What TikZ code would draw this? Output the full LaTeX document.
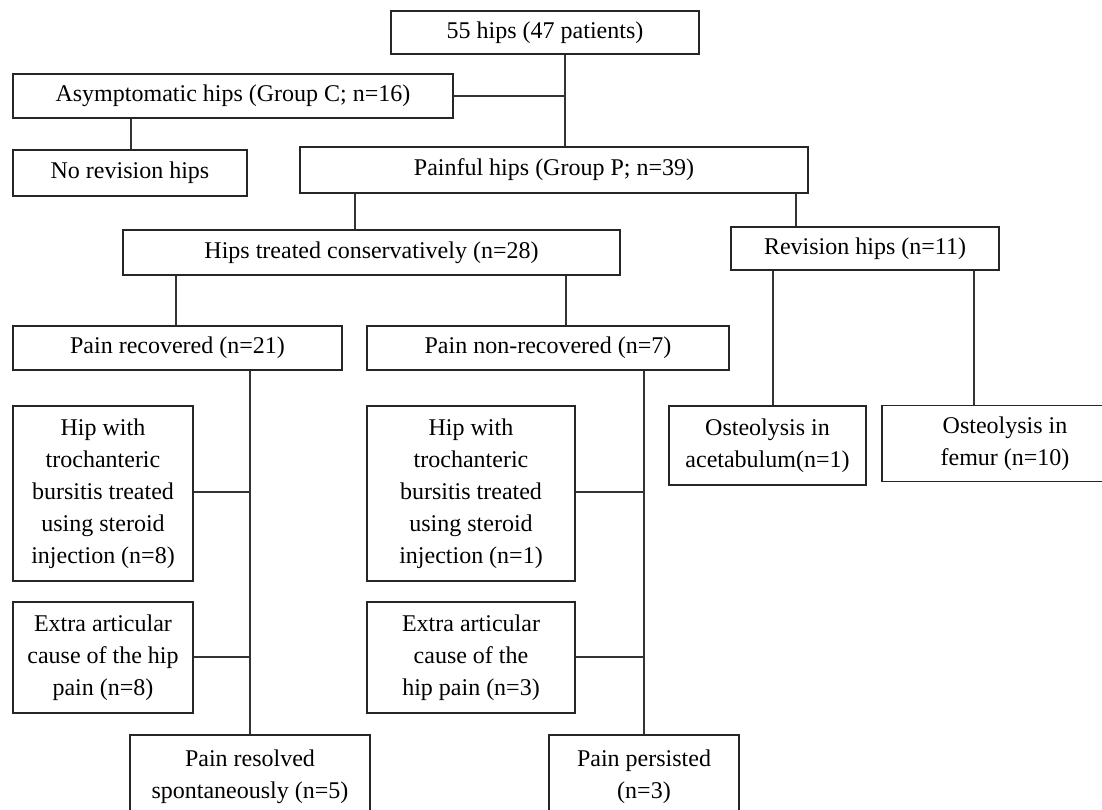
\documentclass[tikz,border=0pt]{standalone}
\usepackage{fontspec}
\setmainfont{Liberation Serif}
\begin{document}
\begin{tikzpicture}[x=1pt,y=-1pt,
  box/.style={draw=black!85,line width=1.3pt,rectangle,inner sep=0pt,align=center,
    font=\fontsize{24}{32}\selectfont},
  conn/.style={draw=black!80,line width=1.3pt}]
\useasboundingbox[fill=white] (0,0) rectangle (1102,809);
% boxes
\node[box,minimum width=308,minimum height=43] (top) at (545,32.5) {55 hips (47 patients)};
\node[box,minimum width=440,minimum height=44] (asym) at (233,96) {Asymptomatic hips (Group C; n=16)};
\node[box,minimum width=234,minimum height=46] (norev) at (130,173) {No revision hips};
\node[box,minimum width=508,minimum height=46] (painful) at (554,170) {Painful hips (Group P; n=39)};
\node[box,minimum width=497,minimum height=45] (cons) at (371.5,252.5) {Hips treated conservatively (n=28)};
\node[box,minimum width=268,minimum height=43] (revis) at (865,248.5) {Revision hips (n=11)};
\node[box,minimum width=329,minimum height=44] (rec) at (177.5,348) {Pain recovered (n=21)};
\node[box,minimum width=362,minimum height=44] (nonrec) at (548,348) {Pain non-recovered (n=7)};
\node[box,minimum width=197,minimum height=79] (osta) at (767.5,445.5) {Osteolysis in\\acetabulum(n=1)};
\node[box,minimum width=226,minimum height=76] (ostf) at (995,443.5) {};
\node[font=\fontsize{24}{32}\selectfont,align=center] (ostft) at (1005,443.5) {Osteolysis in\\femur (n=10)};
\node[box,minimum width=180,minimum height=175] (hipa) at (103,493.5) {Hip with\\trochanteric\\bursitis treated\\using steroid\\injection (n=8)};
\node[box,minimum width=180,minimum height=111] (exta) at (103,657.5) {Extra articular\\cause of the hip\\pain (n=8)};
\node[box,minimum width=240,minimum height=84] (res) at (250,777) {Pain resolved\\spontaneously (n=5)};
\node[box,minimum width=208,minimum height=175] (hipb) at (471,493.5) {Hip with\\trochanteric\\bursitis treated\\using steroid\\injection (n=1)};
\node[box,minimum width=208,minimum height=111] (extb) at (471,657.5) {Extra articular\\cause of the\\hip pain (n=3)};
\node[box,minimum width=190,minimum height=84] (pers) at (644,777) {Pain persisted\\(n=3)};
% junction coordinates
\coordinate (j1) at (565,96);
\coordinate (ja) at (250,492);
\coordinate (jb) at (250,657);
\coordinate (jc) at (644,492);
\coordinate (jd) at (644,657);
% connectors
\draw[conn] (top.south -| j1) -- (painful.north -| j1);
\draw[conn] (asym.east) -- (j1);
\draw[conn] (asym.south -| 131,0) -- (norev.north -| 131,0);
\draw[conn] (painful.south -| 355,0) -- (cons.north -| 355,0);
\draw[conn] (painful.south -| 796,0) -- (revis.north -| 796,0);
\draw[conn] (cons.south -| 176,0) -- (rec.north -| 176,0);
\draw[conn] (cons.south -| 566,0) -- (nonrec.north -| 566,0);
\draw[conn] (revis.south -| 773,0) -- (osta.north -| 773,0);
\draw[conn] (revis.south -| 974,0) -- (ostf.north -| 974,0);
\draw[conn] (rec.south -| res.north) -- (res.north);
\draw[conn] (hipa.east |- ja) -- (ja);
\draw[conn] (exta.east |- jb) -- (jb);
\draw[conn] (nonrec.south -| pers.north) -- (pers.north);
\draw[conn] (hipb.east |- jc) -- (jc);
\draw[conn] (extb.east |- jd) -- (jd);
\end{tikzpicture}
\end{document}
